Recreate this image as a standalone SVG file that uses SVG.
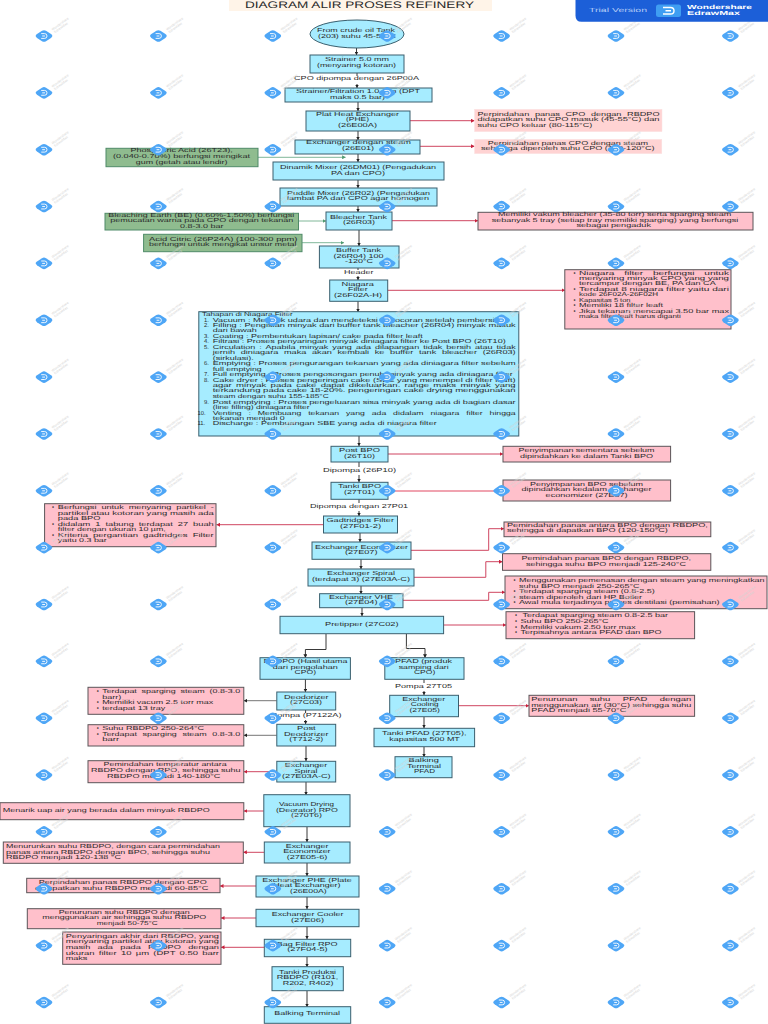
<svg xmlns="http://www.w3.org/2000/svg" width="768" height="1024" viewBox="0 0 768 1024">
<style>
text{font-family:"Liberation Sans",Arial,sans-serif;font-size:5.8px;fill:#2a2a2a;dominant-baseline:central;text-rendering:geometricPrecision}
.n{fill:#a6ecff;stroke:#3a5f6e;stroke-width:1}
.p{fill:#ffc0cb;stroke:#5a5458;stroke-width:1}
.lp{fill:#ffd3d3;stroke:#fbe3e3;stroke-width:.5}
.g{fill:#8fbc8f;stroke:#4f8a68;stroke-width:1}
.k,.r,.gr,.kg{fill:none}
.k{stroke:#222;stroke-width:.9;marker-end:url(#ak)}
.kg{stroke:#666;stroke-width:.9;marker-end:url(#ak)}
.r{stroke:#cf4560;stroke-width:1;marker-end:url(#ar)}
.gr{stroke:#5fa57f;stroke-width:.8;marker-end:url(#ag)}
.wt{font-size:3.4px;fill:#d5d5d5}
</style>
<defs>
<marker id="ak" markerUnits="userSpaceOnUse" markerWidth="4" markerHeight="4" refX="3.5" refY="2" orient="auto"><path d="M0 0L3.5 2L0 4z" fill="#222"/></marker>
<marker id="ar" markerUnits="userSpaceOnUse" markerWidth="4" markerHeight="4" refX="3.5" refY="2" orient="auto"><path d="M0 0L3.5 2L0 4z" fill="#c8203c"/></marker>
<marker id="ag" markerUnits="userSpaceOnUse" markerWidth="4" markerHeight="4" refX="3.5" refY="2" orient="auto"><path d="M0 0L3.5 2L0 4z" fill="#4f9a70"/></marker>
<g id="wm">
<path d="M-8.3 0.2Q-8.6 -.8 -7 -1.9L-2 -5.2Q0 -6.4 2 -5.2L7 -1.9Q8.6 -.8 8.3 .2Q8 1 7 1.9L2 5.2Q0 6.4 -2 5.2L-7 1.9Q-8 1 -8.3 .2z" fill="#4ea6f6"/>
<path d="M-2.8 -2.4H.6Q3 -2.4 3 0Q3 2.4 .6 2.4H-2.8M-1.8 0H1" fill="none" stroke="#fff" stroke-width=".9"/>
<text class="wt" transform="translate(8 -6) rotate(-36)">Wondershare</text>
<text class="wt" transform="translate(10.5 -3.5) rotate(-36)">EdrawMax</text>
</g>
<g id="wr"><use href="#wm" x="44"/><use href="#wm" x="158.4"/><use href="#wm" x="272.8"/><use href="#wm" x="387.2"/><use href="#wm" x="501.6"/><use href="#wm" x="616"/><use href="#wm" x="730.4"/></g>
</defs>
<rect width="768" height="1024" fill="#fff"/>

<g id="title"><rect x="229" y="0" width="263" height="11" fill="#fff4e8"/><text x="245" y="5" style="font-size:9.5px" textLength="229" lengthAdjust="spacingAndGlyphs">DIAGRAM ALIR PROSES REFINERY</text></g>

<g id="connectors">
<path class="k" d="M356.5 48V55"/>
<path class="k" d="M357 73V76M357 84V88"/>
<path class="k" d="M358 102V111"/>
<path class="k" d="M358 131V140"/>
<path class="k" d="M358 154V162"/>
<path class="k" d="M358 180V188"/>
<path class="k" d="M358 206V212"/>
<path class="k" d="M359 230V246"/>
<path class="k" d="M358 268V270M358 276V280"/>
<path class="k" d="M358 301V312"/>
<path class="k" d="M359 436V446"/>
<path class="k" d="M359 462V467M359 475V482"/>
<path class="k" d="M359 499V503M359 511V516"/>
<path class="k" d="M360 533V542"/>
<path class="k" d="M361 559V569"/>
<path class="k" d="M361 586V594"/>
<path class="k" d="M362 608V616"/>
<path class="k" d="M326 634V649.5H305.4V657.7"/>
<path class="k" d="M406.4 634V648.5H425V657.7"/>
<path class="k" d="M305.4 679V692"/>
<path class="k" d="M305.6 710V713M305.6 720V724"/>
<path class="k" d="M306 746V761"/>
<path class="k" d="M306 782V795"/>
<path class="k" d="M307 827V842"/>
<path class="k" d="M307 863V876"/>
<path class="k" d="M307 897V909"/>
<path class="k" d="M307 927V939"/>
<path class="k" d="M307 957V967"/>
<path class="k" d="M307 991V1007"/>
<path class="k" d="M424 679V683M424 691V695"/>
<path class="k" d="M424 717V728"/>
<path class="k" d="M424 747V757"/>
<path class="gr" d="M258 157.3H345.6"/>
<path class="gr" d="M298.5 221H326"/>
<path class="gr" d="M302 242.7H344"/>
<path class="r" d="M410 120.7H474.5"/>
<path class="r" d="M420 146.3H474.5"/>
<path class="r" d="M392 220.7H478"/>
<path class="r" d="M387.6 290.3H565"/>
<path class="r" d="M388 454H503"/>
<path class="r" style="stroke:#f0a3b0;stroke-width:1.8" d="M388 491H503"/>
<path class="r" d="M323.5 524.7H216.5"/>
<path class="r" d="M411 550.3H488.7V528.7H504"/>
<path class="r" d="M414 577.3H485.8V561.7H502.5"/>
<path class="r" d="M403 600.3H488.7V592.3H505"/>
<path class="r" d="M443.6 625H506"/>
<path class="kg" d="M276.8 700.7H243.8"/>
<path class="kg" d="M276.8 735.3H243.8"/>
<path class="r" d="M276.8 771.7H243.8"/>
<path class="r" d="M263.8 811H243.8"/>
<path class="r" d="M458.5 705.7H529"/>
<path class="r" d="M264.3 852.3H243.3"/>
<path class="r" d="M256 886H220"/>
<path class="r" d="M256 918H221"/>
<path class="r" d="M264.3 947.3H221"/>
</g>

<g id="lbl1"><text x="294" y="79.3" textLength="125" lengthAdjust="spacingAndGlyphs">CPO dipompa dengan 26P00A</text></g>
<g id="lbl2"><text x="344" y="272.7" textLength="29.5" lengthAdjust="spacingAndGlyphs">Header</text></g>
<g id="lbl3"><text x="323" y="471" textLength="73" lengthAdjust="spacingAndGlyphs">Dipompa (26P10)</text></g>
<g id="lbl4"><text x="310" y="507" textLength="98" lengthAdjust="spacingAndGlyphs">Dipompa dengan 27P01</text></g>
<g id="lbl5"><text x="271" y="716" textLength="70.5" lengthAdjust="spacingAndGlyphs">Pompa (P7122A)</text></g>
<g id="lbl6"><text x="395" y="687.3" textLength="57" lengthAdjust="spacingAndGlyphs">Pompa 27T05</text></g>

<g id="n-crude"><ellipse class="n" cx="357" cy="34" rx="47" ry="14"/><text x="317" y="31" textLength="78" lengthAdjust="spacingAndGlyphs">From crude oil Tank</text><text x="318" y="37" textLength="78" lengthAdjust="spacingAndGlyphs">(203) suhu 45-55°C</text></g>
<g id="n-strainer"><rect class="n" x="310" y="55" width="94" height="18"/><text x="325" y="60.3" textLength="64" lengthAdjust="spacingAndGlyphs">Strainer 5.0 mm</text><text x="317" y="66" textLength="79" lengthAdjust="spacingAndGlyphs">(menyaring kotoran)</text></g>
<g id="n-filtration"><rect class="n" x="285" y="88" width="147" height="14"/><text x="296" y="92.3" textLength="124" lengthAdjust="spacingAndGlyphs">Strainer/Filtration 1.0 mm (DPT</text><text x="330" y="97.7" textLength="55" lengthAdjust="spacingAndGlyphs">maks 0.5 bar)</text></g>
<g id="n-phe"><rect class="n" x="306" y="111" width="104" height="20"/><text x="316" y="115" textLength="83" lengthAdjust="spacingAndGlyphs">Plat Heat Exchanger</text><text x="346" y="120.3" textLength="23" lengthAdjust="spacingAndGlyphs">(PHE)</text><text x="338" y="126" textLength="39" lengthAdjust="spacingAndGlyphs">(26E00A)</text></g>
<g id="n-steam"><rect class="n" x="295" y="140" width="125" height="14"/><text x="306" y="143" textLength="105" lengthAdjust="spacingAndGlyphs">Exchanger  dengan steam</text><text x="342" y="149" textLength="32" lengthAdjust="spacingAndGlyphs">(26E01)</text></g>
<g id="n-dinamik"><rect class="n" x="273" y="162" width="171" height="18"/><text x="280" y="168" textLength="156" lengthAdjust="spacingAndGlyphs">Dinamik Mixer (26DM01) (Pengadukan</text><text x="331" y="173.7" textLength="54" lengthAdjust="spacingAndGlyphs">PA dan CPO)</text></g>
<g id="n-puddle"><rect class="n" x="280" y="188" width="157" height="18"/><text x="287" y="193.7" textLength="143" lengthAdjust="spacingAndGlyphs">Puddle Mixer (26R02) (Pengadukan</text><text x="287" y="199.3" textLength="142" lengthAdjust="spacingAndGlyphs">lambat PA dan CPO agar homogen</text></g>
<g id="n-bleacher"><rect class="n" x="326" y="212" width="66" height="18"/><text x="330" y="217.7" textLength="57" lengthAdjust="spacingAndGlyphs">Bleacher Tank</text><text x="343" y="223.3" textLength="32" lengthAdjust="spacingAndGlyphs">(26R03)</text></g>
<g id="n-buffer"><rect class="n" x="319.4" y="246" width="79.6" height="22"/><text x="336" y="251.3" textLength="45" lengthAdjust="spacingAndGlyphs">Buffer Tank</text><text x="333.5" y="257" textLength="50" lengthAdjust="spacingAndGlyphs">(26R04) 100</text><text x="345" y="262.3" textLength="28" lengthAdjust="spacingAndGlyphs">-120°C</text></g>
<g id="n-niagara"><rect class="n" x="329.7" y="280" width="58" height="21.3"/><text x="341.6" y="284.7" textLength="32.4" lengthAdjust="spacingAndGlyphs">Niagara</text><text x="348" y="290.3" textLength="19.6" lengthAdjust="spacingAndGlyphs">Filter</text><text x="334" y="296" textLength="48" lengthAdjust="spacingAndGlyphs">(26F02A-H)</text></g>

<g id="n-tahapan"><rect class="n" x="198.8" y="311.7" width="320" height="124.3"/>
<text x="202" y="315.3" textLength="90.7" lengthAdjust="spacingAndGlyphs">Tahapan di Niagara Filter</text>
<text x="204" y="320.7">1.</text><text x="212.7" y="320.7" textLength="297" lengthAdjust="spacingAndGlyphs">Vacuum : Menarik udara dan mendeteksi kebocoran setelah pembersihan</text>
<text x="204" y="326">2.</text><text x="212.7" y="326" textLength="303" lengthAdjust="spacingAndGlyphs">Filling : Pengisian minyak dari buffer tank bleacher (26R04) minyak masuk</text>
<text x="212.7" y="331.3" textLength="44" lengthAdjust="spacingAndGlyphs">dari bawah</text>
<text x="204" y="337">3.</text><text x="212.7" y="337" textLength="210" lengthAdjust="spacingAndGlyphs">Coating : Pembentukan lapisan/ cake pada filter leaft</text>
<text x="204" y="342.3">4.</text><text x="212.7" y="342.3" textLength="293" lengthAdjust="spacingAndGlyphs">Filtrasi : Proses penyaringan minyak diniagara filter ke Post BPO (26T10)</text>
<text x="204" y="348">5.</text><text x="212.7" y="348" textLength="303" lengthAdjust="spacingAndGlyphs" word-spacing="1">Circulation : Apabila minyak yang ada dilapangan tidak bersih atau tidak</text>
<text x="212.7" y="353.3" textLength="303" lengthAdjust="spacingAndGlyphs" word-spacing="2">jernih diniagara maka akan kembali ke buffer tank bleacher  (26R03)</text>
<text x="212.7" y="358.7" textLength="41" lengthAdjust="spacingAndGlyphs">(sirkulasi).</text>
<text x="204" y="364.3">6.</text><text x="212.7" y="364.3" textLength="303" lengthAdjust="spacingAndGlyphs">Emptying : Proses pengurangan tekanan yang ada diniagara filter sebelum</text>
<text x="212.7" y="369.7" textLength="49" lengthAdjust="spacingAndGlyphs">full emptying</text>
<text x="204" y="375.3">7.</text><text x="212.7" y="375.3" textLength="300" lengthAdjust="spacingAndGlyphs">Full emptying : Proses pengosongan penuh minyak yang ada diniagara filter</text>
<text x="204" y="380.7">8.</text><text x="212.7" y="380.7" textLength="303" lengthAdjust="spacingAndGlyphs">Cake dryer : Proses pengeringan cake (SBE yang menempel di filter leaft)</text>
<text x="212.7" y="386" textLength="303" lengthAdjust="spacingAndGlyphs" word-spacing="1">agar minyak pada cake dapat dikeluarkan. range maks minyak yang</text>
<text x="212.7" y="391.3" textLength="303" lengthAdjust="spacingAndGlyphs">terkandung pada cake 18-20%. pengeringan cake drying menggunakan</text>
<text x="212.7" y="397" textLength="116" lengthAdjust="spacingAndGlyphs">steam dengan suhu 155-185°C</text>
<text x="204" y="402.7">9.</text><text x="212.7" y="402.7" textLength="303" lengthAdjust="spacingAndGlyphs">Post emptying : Proses pengeluaran sisa minyak yang ada di bagian dasar</text>
<text x="212.7" y="408" textLength="97" lengthAdjust="spacingAndGlyphs">(line filling) diniagara filter</text>
<text x="197.5" y="413.7">10.</text><text x="212.7" y="413.7" textLength="303" lengthAdjust="spacingAndGlyphs" word-spacing="3">Venting : Membuang tekanan yang ada didalam niagara filter hingga</text>
<text x="212.7" y="419" textLength="72" lengthAdjust="spacingAndGlyphs">tekanan menjadi 0</text>
<text x="197.5" y="424.3">11.</text><text x="212.7" y="424.3" textLength="224" lengthAdjust="spacingAndGlyphs">Discharge : Pembuangan SBE yang ada di niagara filter</text>
</g>

<g id="n-postbpo"><rect class="n" x="331" y="446.3" width="57" height="15.7"/><text x="339" y="451" textLength="41" lengthAdjust="spacingAndGlyphs">Post BPO</text><text x="344" y="456.7" textLength="31" lengthAdjust="spacingAndGlyphs">(26T10)</text></g>
<g id="n-tankibpo"><rect class="n" x="331" y="482.3" width="57" height="17"/><text x="338" y="487.3" textLength="43" lengthAdjust="spacingAndGlyphs">Tanki BPO</text><text x="344" y="493" textLength="31" lengthAdjust="spacingAndGlyphs">(27T01)</text></g>
<g id="n-gad"><rect class="n" x="323.5" y="516" width="74" height="17"/><text x="326.5" y="521.3" textLength="67.5" lengthAdjust="spacingAndGlyphs">Gadtridges Filter</text><text x="340" y="527" textLength="41" lengthAdjust="spacingAndGlyphs">(27F01-2)</text></g>
<g id="n-econ"><rect class="n" x="312" y="542" width="99" height="17.3"/><text x="315" y="547.7" textLength="93" lengthAdjust="spacingAndGlyphs">Exchanger Economizer</text><text x="345" y="553.3" textLength="32.5" lengthAdjust="spacingAndGlyphs">(27E07)</text></g>
<g id="n-spiral"><rect class="n" x="308" y="569" width="106" height="17"/><text x="327" y="574.3" textLength="68" lengthAdjust="spacingAndGlyphs">Exchanger Spiral</text><text x="312" y="580" textLength="98" lengthAdjust="spacingAndGlyphs">(terdapat 3) (27E03A-C)</text></g>
<g id="n-vhe"><rect class="n" x="319.6" y="593.7" width="83.4" height="14"/><text x="329" y="597.7" textLength="64" lengthAdjust="spacingAndGlyphs">Exchanger VHE</text><text x="345" y="603.3" textLength="32.5" lengthAdjust="spacingAndGlyphs">(27E04)</text></g>
<g id="n-pretipper"><rect class="n" x="280" y="616.3" width="163.6" height="17.4"/><text x="325" y="624.7" textLength="73.5" lengthAdjust="spacingAndGlyphs">Pretipper (27C02)</text></g>
<g id="n-rbdpo"><rect class="n" x="260" y="657.7" width="90.4" height="21.6"/><text x="263.4" y="662.3" textLength="84" lengthAdjust="spacingAndGlyphs">RBDPO (Hasil utama</text><text x="272.8" y="668" textLength="65" lengthAdjust="spacingAndGlyphs">dari pengolahan</text><text x="294.6" y="673.3" textLength="21.4" lengthAdjust="spacingAndGlyphs">CPO)</text></g>
<g id="n-pfad"><rect class="n" x="384.8" y="657.7" width="79.2" height="21.6"/><text x="395" y="662.3" textLength="57" lengthAdjust="spacingAndGlyphs">PFAD (produk</text><text x="398.7" y="668" textLength="50" lengthAdjust="spacingAndGlyphs">samping dari</text><text x="413.9" y="673.3" textLength="21.4" lengthAdjust="spacingAndGlyphs">CPO)</text></g>
<g id="n-deo"><rect class="n" x="276.8" y="692" width="58.9" height="18"/><text x="284" y="698" textLength="44.6" lengthAdjust="spacingAndGlyphs">Deodorizer</text><text x="290" y="703.3" textLength="32" lengthAdjust="spacingAndGlyphs">(27C03)</text></g>
<g id="n-postdeo"><rect class="n" x="276.8" y="724.3" width="58.9" height="21.7"/><text x="297" y="729.3" textLength="18.7" lengthAdjust="spacingAndGlyphs">Post</text><text x="284" y="735" textLength="44.6" lengthAdjust="spacingAndGlyphs">Deodorizer</text><text x="289.3" y="740.3" textLength="34" lengthAdjust="spacingAndGlyphs">(T712-2)</text></g>
<g id="n-spiral2"><rect class="n" x="276.8" y="761.3" width="58.9" height="20.7"/><text x="284.8" y="766" textLength="42.4" lengthAdjust="spacingAndGlyphs">Exchanger</text><text x="294.6" y="771.7" textLength="22.8" lengthAdjust="spacingAndGlyphs">Spiral</text><text x="282" y="777" textLength="48.7" lengthAdjust="spacingAndGlyphs">(27E03A-C)</text></g>
<g id="n-vacuum"><rect class="n" x="263.8" y="794.7" width="86.2" height="32"/><text x="279" y="805" textLength="55" lengthAdjust="spacingAndGlyphs">Vacuum Drying</text><text x="275.9" y="810.7" textLength="62" lengthAdjust="spacingAndGlyphs">(Deorator) RPO</text><text x="291" y="816" textLength="31" lengthAdjust="spacingAndGlyphs">(270T6)</text></g>
<g id="n-cooling"><rect class="n" x="389.7" y="695.3" width="68.8" height="21.4"/><text x="402.2" y="700" textLength="43" lengthAdjust="spacingAndGlyphs">Exchanger</text><text x="410.7" y="705.3" textLength="28" lengthAdjust="spacingAndGlyphs">Cooling</text><text x="409.4" y="711" textLength="30.4" lengthAdjust="spacingAndGlyphs">(27E05)</text></g>
<g id="n-tankipfad"><rect class="n" x="374" y="728.3" width="100.6" height="18.4"/><text x="382.1" y="734.3" textLength="84.4" lengthAdjust="spacingAndGlyphs">Tanki PFAD (27T05),</text><text x="389.3" y="740" textLength="70.5" lengthAdjust="spacingAndGlyphs">kapasitas 500 MT</text></g>
<g id="n-balkpfad"><rect class="n" x="395" y="756.7" width="57" height="21"/><text x="408.5" y="761.3" textLength="30.4" lengthAdjust="spacingAndGlyphs">Balking</text><text x="407" y="767" textLength="34" lengthAdjust="spacingAndGlyphs">Terminal</text><text x="414" y="772.3" textLength="21" lengthAdjust="spacingAndGlyphs">PFAD</text></g>
<g id="n-econ2"><rect class="n" x="264.3" y="842" width="85.7" height="21"/><text x="285.7" y="846.7" textLength="42.7" lengthAdjust="spacingAndGlyphs">Exchanger</text><text x="283.3" y="852" textLength="47.3" lengthAdjust="spacingAndGlyphs">Economizer</text><text x="286.7" y="857.7" textLength="40.7" lengthAdjust="spacingAndGlyphs">(27E05-6)</text></g>
<g id="n-phe2"><rect class="n" x="256" y="876" width="103" height="21"/><text x="262.3" y="880.7" textLength="89.3" lengthAdjust="spacingAndGlyphs">Exchanger PHE (Plate</text><text x="273.3" y="886" textLength="67.3" lengthAdjust="spacingAndGlyphs">Heat Exchanger)</text><text x="290" y="891.7" textLength="36.7" lengthAdjust="spacingAndGlyphs">(26E00A)</text></g>
<g id="n-cooler"><rect class="n" x="256" y="909.3" width="103" height="17.4"/><text x="271.7" y="915" textLength="71.7" lengthAdjust="spacingAndGlyphs">Exchanger Cooler</text><text x="291" y="920.7" textLength="33" lengthAdjust="spacingAndGlyphs">(27E06)</text></g>
<g id="n-bag"><rect class="n" x="264.3" y="939.3" width="86.4" height="17.4"/><text x="276.7" y="944.7" textLength="61" lengthAdjust="spacingAndGlyphs">Bag Filter RPO</text><text x="287.3" y="950.3" textLength="40.3" lengthAdjust="spacingAndGlyphs">(27F04-5)</text></g>
<g id="n-produksi"><rect class="n" x="272" y="966.7" width="71.3" height="24"/><text x="279" y="972.7" textLength="57" lengthAdjust="spacingAndGlyphs">Tanki Produksi</text><text x="276.7" y="978.3" textLength="61.7" lengthAdjust="spacingAndGlyphs">RBDPO (R101,</text><text x="282.7" y="983.7" textLength="50.7" lengthAdjust="spacingAndGlyphs">R202, R402)</text></g>
<g id="n-balking"><rect class="n" x="264.3" y="1006.7" width="86.4" height="16.6"/><text x="274.3" y="1014.3" textLength="65.7" lengthAdjust="spacingAndGlyphs">Balking Terminal</text></g>

<g id="g-phos"><rect class="g" x="106" y="148.3" width="152" height="18.4"/><text x="130.4" y="151.3" textLength="102.4" lengthAdjust="spacingAndGlyphs">Phosphoric Acid (26T23),</text><text x="113" y="157" textLength="137" lengthAdjust="spacingAndGlyphs">(0.040-0.70%) berfungsi mengikat</text><text x="135.8" y="162.7" textLength="91.7" lengthAdjust="spacingAndGlyphs">gum (getah atau lendir)</text></g>
<g id="g-bleach"><rect class="g" x="105" y="213.3" width="193.5" height="16.7"/><text x="108.3" y="215.7" textLength="186" lengthAdjust="spacingAndGlyphs">Bleaching Earth (BE) (0.60%-1.50%) berfungsi</text><text x="110.3" y="221.3" textLength="183" lengthAdjust="spacingAndGlyphs">pemucatan warna pada CPO dengan tekanan</text><text x="180" y="226.7" textLength="43.5" lengthAdjust="spacingAndGlyphs">0.8-3.0 bar</text></g>
<g id="g-citric"><rect class="g" x="143.6" y="234.3" width="158.4" height="17.4"/><text x="149" y="239.7" textLength="148.5" lengthAdjust="spacingAndGlyphs">Acid Citric (26P24A)  (100-300 ppm)</text><text x="149" y="245.3" textLength="147.5" lengthAdjust="spacingAndGlyphs">berfungsi untuk mengikat unsur metal</text></g>

<g id="p-phe"><rect class="lp" x="474.5" y="109.3" width="187.5" height="22.4"/><text x="477.5" y="114.7" textLength="182" lengthAdjust="spacingAndGlyphs" word-spacing="2">Perpindahan panas  CPO dengan RBDPO</text><text x="477.5" y="120.3" textLength="182" lengthAdjust="spacingAndGlyphs">didapatkan suhu CPO masuk (45-55°C) dan</text><text x="477.5" y="126" textLength="114.7" lengthAdjust="spacingAndGlyphs">suhu CPO keluar (80-115°C)</text></g>
<g id="p-steam"><rect class="lp" x="474.5" y="139.3" width="187.3" height="14.4"/><text x="487.7" y="143.7" textLength="160.3" lengthAdjust="spacingAndGlyphs">Perpindahan panas CPO dengan steam</text><text x="481" y="149" textLength="173.5" lengthAdjust="spacingAndGlyphs">sehingga diperoleh suhu CPO (100-120°C)</text></g>
<g id="p-bleacher"><rect class="p" x="478" y="212.3" width="275" height="17.7"/><text x="498" y="215.3" textLength="233.4" lengthAdjust="spacingAndGlyphs">Memiliki vakum bleacher (35-80 torr) serta sparging steam</text><text x="491.7" y="221" textLength="246.6" lengthAdjust="spacingAndGlyphs">sebanyak 5 tray (setiap tray memiliki sparging) yang berfungsi</text><text x="576.5" y="226.3" textLength="74.5" lengthAdjust="spacingAndGlyphs">sebagai pengaduk</text></g>
<g id="p-niagara"><rect class="p" x="564.8" y="269.7" width="166.2" height="59.3"/>
<text x="573.5" y="273.7">•</text><text x="579" y="273.7" textLength="150" lengthAdjust="spacingAndGlyphs" word-spacing="4">Niagara filter berfungsi untuk</text>
<text x="579" y="279" textLength="150" lengthAdjust="spacingAndGlyphs">menyaring minyak CPO yang yang</text>
<text x="579" y="284.3" textLength="136.7" lengthAdjust="spacingAndGlyphs">tercampur dengan BE, PA dan CA</text>
<text x="573.5" y="290">•</text><text x="579" y="290" textLength="150" lengthAdjust="spacingAndGlyphs">Terdapat 8 niagara filter yaitu dari</text>
<text x="579" y="295.3" textLength="79" lengthAdjust="spacingAndGlyphs">kode 26F02A-26F02H</text>
<text x="573.5" y="300.7">•</text><text x="579" y="300.7" textLength="51.5" lengthAdjust="spacingAndGlyphs">Kapasitas 5 ton</text>
<text x="573.5" y="306.3">•</text><text x="579" y="306.3" textLength="84" lengthAdjust="spacingAndGlyphs">Memiliki 18 filter leaft</text>
<text x="573.5" y="311.7">•</text><text x="579" y="311.7" textLength="150" lengthAdjust="spacingAndGlyphs">Jika tekanan mencapai 3.50 bar max</text>
<text x="579" y="317.3" textLength="101.8" lengthAdjust="spacingAndGlyphs">maka filter leaft harus diganti</text>
</g>
<g id="p-postbpo"><rect class="p" x="503" y="446.3" width="167.6" height="15.7"/><text x="518.6" y="451" textLength="136" lengthAdjust="spacingAndGlyphs">Penyimpanan sementara sebelum</text><text x="520" y="456.7" textLength="133" lengthAdjust="spacingAndGlyphs">dipindahkan ke dalam Tanki BPO</text></g>
<g id="p-tanki"><rect class="p" x="503" y="480" width="167.6" height="21"/><text x="530" y="484.7" textLength="113" lengthAdjust="spacingAndGlyphs">Penyimpanan BPO sebelum</text><text x="521.6" y="490.3" textLength="130" lengthAdjust="spacingAndGlyphs">dipindahkan kedalam exchanger</text><text x="545.6" y="495.7" textLength="82" lengthAdjust="spacingAndGlyphs">economizer (27E07)</text></g>
<g id="p-gad"><rect class="p" x="44.6" y="503.7" width="171.4" height="43"/>
<text x="52" y="508.3">•</text><text x="57.8" y="508.3" textLength="156" lengthAdjust="spacingAndGlyphs" word-spacing="1.5">Berfungsi untuk menyaring partikel -</text>
<text x="57.8" y="513.7" textLength="156" lengthAdjust="spacingAndGlyphs">partikel atau kotoran yang masih ada</text>
<text x="57.8" y="519" textLength="42.7" lengthAdjust="spacingAndGlyphs">pada BPO</text>
<text x="52" y="524.7">•</text><text x="57.8" y="524.7" textLength="156" lengthAdjust="spacingAndGlyphs" word-spacing="1.5">didalam 1 tabung terdapat 27 buah</text>
<text x="57.8" y="530" textLength="108" lengthAdjust="spacingAndGlyphs">filter dengan ukuran 10 µm,</text>
<text x="52" y="535.7">•</text><text x="57.8" y="535.7" textLength="156" lengthAdjust="spacingAndGlyphs" word-spacing="1.5">Kriteria pergantian gadtridges Filter</text>
<text x="57.8" y="541" textLength="49" lengthAdjust="spacingAndGlyphs">yaitu 0.3 bar</text>
</g>
<g id="p-econ"><rect class="p" x="504" y="522" width="206.8" height="14.7"/><text x="506.9" y="525.7" textLength="201" lengthAdjust="spacingAndGlyphs">Pemindahan  panas antara BPO dengan RBDPO,</text><text x="506.9" y="531.3" textLength="161" lengthAdjust="spacingAndGlyphs">sehingga di dapatkan BPO (120-150°C)</text></g>
<g id="p-spiral"><rect class="p" x="502.5" y="553.7" width="208.3" height="16.6"/><text x="521.5" y="558.7" textLength="169.6" lengthAdjust="spacingAndGlyphs">Pemindahan panas BPO dengan RBDPO,</text><text x="526" y="564.7" textLength="160" lengthAdjust="spacingAndGlyphs">sehingga suhu BPO menjadi 125-240°C</text></g>
<g id="p-vhe"><rect class="p" x="505" y="576" width="262" height="32.7"/>
<text x="513.5" y="580.7">•</text><text x="519" y="580.7" textLength="245.6" lengthAdjust="spacingAndGlyphs">Menggunakan pemenasan dengan steam yang meningkatkan</text>
<text x="519" y="586.7" textLength="120.6" lengthAdjust="spacingAndGlyphs">suhu BPO menjadi 250-265°C</text>
<text x="513.5" y="592.3">•</text><text x="519" y="592.3" textLength="135.8" lengthAdjust="spacingAndGlyphs">Terdapat sparging steam (0.8-2.5)</text>
<text x="513.5" y="597.7">•</text><text x="519" y="597.7" textLength="123" lengthAdjust="spacingAndGlyphs">steam diperoleh dari HP Boiler</text>
<text x="513.5" y="603">•</text><text x="519" y="603" textLength="200.5" lengthAdjust="spacingAndGlyphs">Awal mula terjadinya proses destilasi (pemisahan)</text>
</g>
<g id="p-pretipper"><rect class="p" x="506" y="611.7" width="188.6" height="27"/>
<text x="515" y="616.3">•</text><text x="522.5" y="616.3" textLength="145.6" lengthAdjust="spacingAndGlyphs">Terdapat sparging steam 0.8-2.5 bar</text>
<text x="515" y="622.3">•</text><text x="520.6" y="622.3" textLength="88" lengthAdjust="spacingAndGlyphs">Suhu BPO 250-265°C</text>
<text x="515" y="627.7">•</text><text x="520.6" y="627.7" textLength="115" lengthAdjust="spacingAndGlyphs">Memiliki vakum 2.50 torr max</text>
<text x="515" y="633.3">•</text><text x="520.6" y="633.3" textLength="141" lengthAdjust="spacingAndGlyphs">Terpisahnya antara PFAD dan BPO</text>
</g>
<g id="p-deo"><rect class="p" x="88" y="687.3" width="155.8" height="27"/>
<text x="96.8" y="692.3">•</text><text x="102.2" y="692.3" textLength="138" lengthAdjust="spacingAndGlyphs" word-spacing="1.5">Terdapat sparging steam (0.8-3.0</text>
<text x="102.2" y="698" textLength="19" lengthAdjust="spacingAndGlyphs">barr)</text>
<text x="96.8" y="703.3">•</text><text x="102.2" y="703.3" textLength="111" lengthAdjust="spacingAndGlyphs">Memiliki vacum 2.5 torr max</text>
<text x="96.8" y="709">•</text><text x="102.2" y="709" textLength="63" lengthAdjust="spacingAndGlyphs">terdapat 13 tray</text>
</g>
<g id="p-postdeo"><rect class="p" x="88" y="724.7" width="155.8" height="21.3"/>
<text x="96.8" y="729.3">•</text><text x="102.2" y="729.3" textLength="102" lengthAdjust="spacingAndGlyphs">Suhu RBDPO 250-264°C</text>
<text x="96.8" y="735">•</text><text x="102.2" y="735" textLength="138" lengthAdjust="spacingAndGlyphs" word-spacing="2">Terdapat sparging steam 0.8-3.0</text>
<text x="102.2" y="740.3" textLength="17" lengthAdjust="spacingAndGlyphs">barr</text>
</g>
<g id="p-spiral2"><rect class="p" x="88" y="760.7" width="155.8" height="22"/><text x="103.6" y="765.3" textLength="123" lengthAdjust="spacingAndGlyphs">Pemindahan temperatur antara</text><text x="91" y="771.3" textLength="149.5" lengthAdjust="spacingAndGlyphs">RBDPO dengan RPO, sehingga suhu</text><text x="107" y="777" textLength="113.4" lengthAdjust="spacingAndGlyphs">RBDPO menjadi 140-180°C</text></g>
<g id="p-vacuum"><rect class="p" x="0" y="802.7" width="243.8" height="17"/><text x="2.7" y="810.7" textLength="207" lengthAdjust="spacingAndGlyphs">Menarik uap air yang berada dalam minyak RBDPO</text></g>
<g id="p-pfad"><rect class="p" x="529" y="695.3" width="165.6" height="21"/><text x="531.3" y="700" textLength="160" lengthAdjust="spacingAndGlyphs" word-spacing="6">Penurunan suhu PFAD dengan</text><text x="531.3" y="705.7" textLength="160" lengthAdjust="spacingAndGlyphs">menggunakan air (30°C) sehingga suhu</text><text x="531.3" y="711.3" textLength="95" lengthAdjust="spacingAndGlyphs">PFAD menjadi 55-70°C</text></g>
<g id="p-econ2"><rect class="p" x="3.3" y="842" width="240" height="21.3"/><text x="6" y="847" textLength="214" lengthAdjust="spacingAndGlyphs">Menurunkan suhu RBDPO, dengan cara permindahan</text><text x="6" y="852.7" textLength="204" lengthAdjust="spacingAndGlyphs">panas antara RBDPO dengan BPO, sehingga suhu</text><text x="6" y="858" textLength="115" lengthAdjust="spacingAndGlyphs">RBDPO menjadi 120-138 °C</text></g>
<g id="p-phe2"><rect class="p" x="26.7" y="878.3" width="193.3" height="14.4"/><text x="38.7" y="882.7" textLength="168" lengthAdjust="spacingAndGlyphs">Perpindahan panas RBDPO dengan CPO</text><text x="35" y="888.7" textLength="173.3" lengthAdjust="spacingAndGlyphs">didapatkan suhu RBDPO menjadi 60-85°C</text></g>
<g id="p-cooler"><rect class="p" x="27.3" y="908.7" width="193.7" height="20"/><text x="58.7" y="912.7" textLength="131" lengthAdjust="spacingAndGlyphs">Penurunan suhu RBDPO dengan</text><text x="42.3" y="918.3" textLength="164" lengthAdjust="spacingAndGlyphs">menggunakan air sehingga suhu RBDPO</text><text x="96.7" y="924" textLength="61" lengthAdjust="spacingAndGlyphs">menjadi 50-75°C</text></g>
<g id="p-bag"><rect class="p" x="62.7" y="932" width="158.3" height="32.3"/><text x="65.7" y="936.7" textLength="153.3" lengthAdjust="spacingAndGlyphs">Penyaringan akhir dari RBDPO, yang</text><text x="65.7" y="942.3" textLength="153.3" lengthAdjust="spacingAndGlyphs">menyaring partikel atau kotoran yang</text><text x="65.7" y="948" textLength="153.3" lengthAdjust="spacingAndGlyphs" word-spacing="3">masih ada pada RBDPO dengan</text><text x="65.7" y="953.7" textLength="153.3" lengthAdjust="spacingAndGlyphs" word-spacing="1">ukuran filter 10 µm (DPT 0.50 barr</text><text x="65.7" y="959" textLength="21.7" lengthAdjust="spacingAndGlyphs">maks</text></g>

<g id="watermarks">
<use href="#wr" y="36"/><use href="#wr" y="92.85"/><use href="#wr" y="149.7"/><use href="#wr" y="206.55"/><use href="#wr" y="263.4"/><use href="#wr" y="320.25"/><use href="#wr" y="377.1"/><use href="#wr" y="433.95"/><use href="#wr" y="490.8"/><use href="#wr" y="547.65"/><use href="#wr" y="604.5"/><use href="#wr" y="661.35"/><use href="#wr" y="718.2"/><use href="#wr" y="775.05"/><use href="#wr" y="831.9"/><use href="#wr" y="888.75"/><use href="#wr" y="945.6"/><use href="#wr" y="1002.45"/>
</g>

<g id="badge">
<path d="M575.5 0H768V21.7H581.5Q575.5 21.7 575.5 15.7z" fill="#1c5fd8"/>
<text x="589" y="11" style="font-size:6px;fill:#b5cdf7" textLength="58" lengthAdjust="spacingAndGlyphs">Trial Version</text>
<rect x="656" y="4.5" width="25" height="12.5" rx="2.5" fill="#3f9df2"/>
<path d="M663 7.5H670.5Q674 7.5 674 10.7Q674 14 670.5 14H663M665.5 10.7H671" fill="none" stroke="#fff" stroke-width="1.4"/>
<text x="687" y="8.3" style="font-size:6px;font-weight:bold;fill:#fff" textLength="65" lengthAdjust="spacingAndGlyphs">Wondershare</text>
<text x="687" y="13.7" style="font-size:6px;font-weight:bold;fill:#fff" textLength="53" lengthAdjust="spacingAndGlyphs">EdrawMax</text>
</g>
</svg>
